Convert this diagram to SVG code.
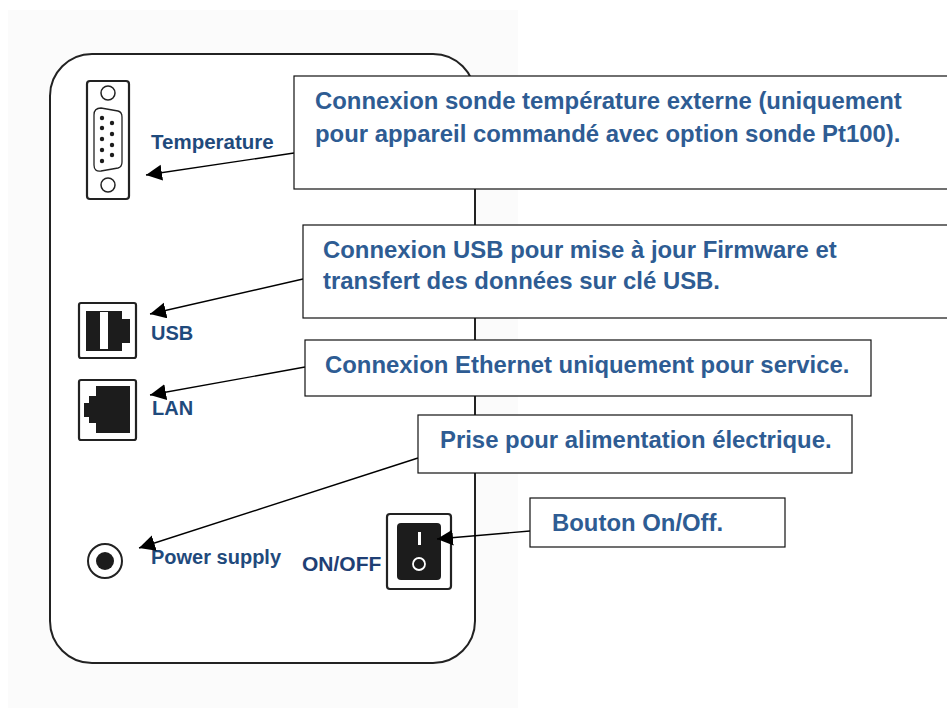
<svg xmlns="http://www.w3.org/2000/svg" width="947" height="708" viewBox="0 0 947 708">
<style>
text{font-family:"Liberation Sans",Arial,sans-serif;font-weight:bold}
.lbl{fill:#1f4a7c;font-size:20px}
.call{fill:#2e5c93;font-size:23.9px}
.box{fill:#fff;stroke:#111;stroke-width:1.2}
.con{stroke:#000;stroke-width:1.4;fill:none;marker-end:url(#arr)}
.frame{fill:#fff;stroke:#222;stroke-width:2.2}
.dark{fill:#1c1c1c}
</style>
<defs>
<marker id="arr" markerUnits="userSpaceOnUse" markerWidth="18" markerHeight="18" refX="16" refY="8" orient="auto">
<path d="M0 0L16 8L0 16Z" fill="#000"/>
</marker>
</defs>
<rect width="947" height="708" fill="#fff"/>
<rect x="8" y="10" width="510" height="698" fill="#fbfbfb"/>
<g id="panel"><rect x="50" y="54" width="425" height="609" rx="42" fill="#fff" stroke="#222" stroke-width="2"/></g>
<g id="temperature">
<rect x="87" y="81" width="42" height="118" rx="3" class="frame"/>
<circle cx="108" cy="93" r="7" fill="#fff" stroke="#222" stroke-width="1.5"/>
<circle cx="108" cy="185" r="7" fill="#fff" stroke="#222" stroke-width="1.5"/>
<path d="M94 115Q94 108 101 108L118 111Q122 112 122 117V162Q122 167 118 168L101 171Q94 172 94 165Z" fill="#fff" stroke="#222" stroke-width="1.3"/>
<g class="dark"><circle cx="102" cy="118" r="2.2"/><circle cx="102" cy="128" r="2.2"/><circle cx="102" cy="139" r="2.2"/><circle cx="102" cy="150" r="2.2"/><circle cx="102" cy="161" r="2.2"/><circle cx="112" cy="123" r="2.2"/><circle cx="112" cy="134" r="2.2"/><circle cx="112" cy="145" r="2.2"/><circle cx="112" cy="155" r="2.2"/></g>
<text x="151" y="149" class="lbl" style="font-size:20.5px">Temperature</text>
</g>
<g id="usb">
<rect x="79" y="303" width="57" height="55" rx="2" class="frame"/>
<path d="M86 311H122V319H130V343H122V351H86Z" class="dark"/>
<rect x="100" y="312" width="8" height="37" fill="#fff"/>
<text x="151" y="340" class="lbl">USB</text>
</g>
<g id="lan">
<rect x="79" y="380" width="57" height="60" rx="2" class="frame"/>
<path d="M96 386H130V433H96V423H89V417H84V403H89V396H96Z" class="dark"/>
<text x="152" y="415" class="lbl">LAN</text>
</g>
<g id="power">
<circle cx="105" cy="561" r="17" fill="#fff" stroke="#222" stroke-width="2"/>
<circle cx="105" cy="561" r="9" class="dark"/>
<text x="151" y="564" class="lbl">Power supply</text>
</g>
<g id="onoff">
<rect x="387" y="514" width="64" height="75" rx="3" class="frame"/>
<rect x="397" y="523" width="44" height="57" rx="4" class="dark"/>
<rect x="418" y="532" width="3" height="13" fill="#fff"/>
<circle cx="419" cy="564" r="6" fill="none" stroke="#fff" stroke-width="1.8"/>
<text x="302" y="571" class="lbl" style="fill:#1f3f75;font-size:21px">ON/OFF</text>
</g>
<g id="connectors">
<path class="con" d="M294 153L146 175"/>
<path class="con" d="M303 279L150 314"/>
<path class="con" d="M305 367L150 395"/>
<path class="con" d="M418 458L139 548"/>
<path class="con" d="M530 531L437 539"/>
</g>
<g id="call-temperature"><rect x="294" y="76" width="660" height="113" class="box"/>
<text x="315" y="109" class="call">Connexion sonde température externe (uniquement</text>
<text x="315" y="142" class="call">pour appareil commandé avec option sonde Pt100).</text></g>
<g id="call-usb"><rect x="303" y="225" width="650" height="93" class="box"/>
<text x="323" y="258" class="call">Connexion USB pour mise à jour Firmware et</text>
<text x="323" y="289" class="call">transfert des données sur clé USB.</text></g>
<g id="call-lan"><rect x="305" y="340" width="566" height="56" class="box"/>
<text x="325" y="373" class="call">Connexion Ethernet uniquement pour service.</text></g>
<g id="call-power"><rect x="418" y="415" width="434" height="58" class="box"/>
<text x="440" y="448" class="call">Prise pour alimentation électrique.</text></g>
<g id="call-onoff"><rect x="530" y="498" width="255" height="49" class="box"/>
<text x="552" y="531" class="call">Bouton On/Off.</text></g>
</svg>
